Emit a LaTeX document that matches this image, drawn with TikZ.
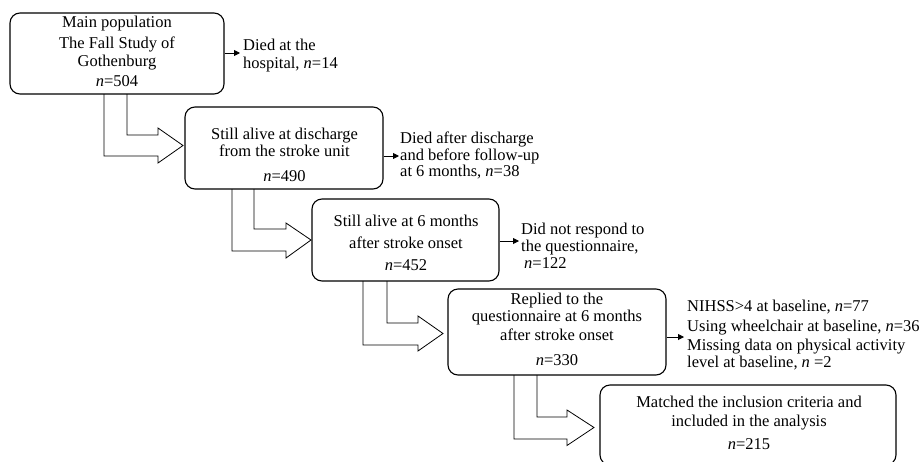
\documentclass[tikz,border=0pt]{standalone}
\usepackage{fontspec}
\setmainfont{Liberation Serif}
\usetikzlibrary{arrows.meta}
\begin{document}
\begin{tikzpicture}[x=1pt,y=-1pt,
  box/.style={draw, line width=1.1pt, rounded corners=10pt, inner sep=0pt},
  txt/.style={inner sep=0pt, font=\fontsize{16.5}{19}\selectfont, align=center},
  sidetxt/.style={inner sep=0pt, font=\fontsize{16.5}{19}\selectfont, align=left, anchor=west},
  sidearrow/.style={line width=0.9pt, -{Triangle[length=6pt,width=6pt]}},
  blockarrow/.style={line width=0.8pt, line join=miter}]
\useasboundingbox (0,0) rectangle (921,461);
\clip (0,0) rectangle (921,461);

% boxes
\node[box, minimum width=214pt, minimum height=81pt] (b1) at (117,53.5) {};
\node[box, minimum width=198pt, minimum height=82pt] (b2) at (284,148) {};
\node[box, minimum width=187pt, minimum height=82pt] (b3) at (405.5,240) {};
\node[box, minimum width=218pt, minimum height=86pt] (b4) at (557,332) {};
\node[box, minimum width=296pt, minimum height=80pt] (b5) at (748,425) {};

% box texts
\node[txt] (t1) at (117,53.5) {\strut Main population\\[2pt]The Fall Study of\\[-1pt]Gothenburg\\[1pt]\strut\textit{n}=504};
\node[txt] (t2) at (284.5,157) {\strut Still alive at discharge\\[-2pt]from the stroke unit\\[6pt]\strut\textit{n}=490};
\node[txt] (t3) at (406,245) {\strut Still alive at 6 months\\[3pt]after stroke onset\\[3pt]\strut\textit{n}=452};
\node[txt] (t4) at (557,331.5) {\strut Replied to the\\[-2pt]questionnaire at 6 months\\after stroke onset\\[6pt]\strut\textit{n}=330};
\node[txt] (t5) at (749,425) {\strut Matched the inclusion criteria and\\included in the analysis\\[4pt]\strut\textit{n}=215};

% side texts
\node[sidetxt] (s1) at (243,56) {\strut Died at the\\[-1pt]\strut hospital, \textit{n}=14};
\node[sidetxt] (s2) at (400,156.25) {\strut Died after discharge\\[-2.5pt]and before follow-up\\[-2.5pt]\strut at 6 months, \textit{n}=38};
\node[sidetxt] (s3) at (521,248) {\strut Did not respond to\\[-2pt]the questionnaire,\\[-2pt]\strut\hspace*{3pt}\textit{n}=122};
\node[sidetxt] (s4) at (687,336) {\strut NIHSS>4 at baseline, \textit{n}=77\\[1pt]Using wheelchair at baseline, \textit{n}=36\\Missing data on physical activity\\[-2pt]\strut level at baseline, \textit{n} =2};

% side arrows
\coordinate (a1) at (240,53);
\coordinate (a2) at (399,156);
\coordinate (a3) at (519,241);
\coordinate (a4) at (684,337);
\draw[sidearrow] (b1.east |- a1) -- (a1);
\draw[sidearrow] (b2.east |- a2) -- (a2);
\draw[sidearrow] (b3.east |- a3) -- (a3);
\draw[sidearrow] (b4.east |- a4) -- (a4);

% block arrows
\draw[blockarrow] (104,94) -- (104,156) -- (158,156) -- (158,163) -- (183,145.5) -- (158,128) -- (158,135) -- (127,135) -- (127,94);
\draw[blockarrow] (232,189) -- (232,251) -- (286,251) -- (286,258) -- (311,240) -- (286,223) -- (286,229) -- (254,229) -- (254,189);
\draw[blockarrow] (363,281) -- (363,345) -- (418,345) -- (418,351) -- (443,333.5) -- (418,316) -- (418,323) -- (387,323) -- (387,281);
\draw[blockarrow] (514,375) -- (514,439) -- (567,439) -- (567,445.5) -- (594,427.5) -- (567,410) -- (567,417) -- (537,417) -- (537,375);
\end{tikzpicture}
\end{document}
